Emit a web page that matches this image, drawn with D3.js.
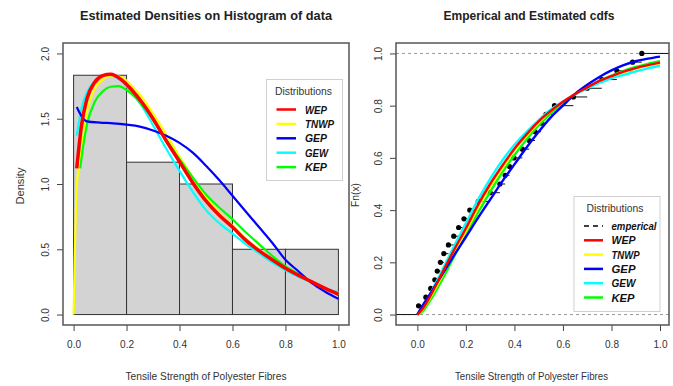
<!DOCTYPE html>
<html>
<head>
<meta charset="utf-8">
<script src="https://cdn.jsdelivr.net/npm/d3@7"></script>
<style>
  html, body { margin: 0; padding: 0; background: #fff; }
  svg { display: block; font-family: "Liberation Sans", Arial, sans-serif; }
</style>
</head>
<body>
<svg id="chart" width="673" height="386"></svg>
<script>
(function () {
    'use strict';

    // histogram of the data (bin edges and densities)
    const binEdges = [0, 0.2, 0.4, 0.6, 0.8, 1.0];
    const binDensity = [1.833, 1.167, 1.0, 0.5, 0.5];

    // sorted sample (n = 30)
    const sample = [0.005, 0.035, 0.055, 0.072, 0.082, 0.095, 0.109, 0.128, 0.150, 0.170,
        0.192, 0.216, 0.251, 0.300, 0.340, 0.362, 0.380, 0.398, 0.433, 0.461,
        0.485, 0.510, 0.530, 0.565, 0.643, 0.700, 0.760, 0.822, 0.887, 0.925];

    const series = ['WEP', 'TNWP', 'GEP', 'GEW', 'KEP'];
    const seriesColors = { WEP: '#ff0000', TNWP: '#ffff00', GEP: '#0000ff', GEW: '#00ffff', KEP: '#00ff00' };

    // estimated densities [x, f(x)]
    const wepDensity = [[0.012, 1.12], [0.03, 1.45], [0.05, 1.65], [0.08, 1.78], [0.11, 1.83], [0.14, 1.84],
        [0.18, 1.80], [0.22, 1.72], [0.26, 1.62], [0.30, 1.50], [0.35, 1.33], [0.40, 1.17], [0.45, 1.01],
        [0.50, 0.87], [0.55, 0.76], [0.60, 0.67], [0.65, 0.57], [0.70, 0.49], [0.75, 0.42], [0.80, 0.355],
        [0.85, 0.30], [0.90, 0.25], [0.95, 0.20], [1.0, 0.155]];
    const tnwpDensity = [[0.0, 0.0], [0.004, 0.4], [0.008, 0.75], [0.012, 0.98], [0.02, 1.13], [0.03, 1.27],
        [0.05, 1.55], [0.08, 1.73], [0.11, 1.80], [0.14, 1.83], [0.18, 1.82], [0.22, 1.75], [0.26, 1.66],
        [0.30, 1.54], [0.35, 1.38], [0.40, 1.21], [0.45, 1.05], [0.50, 0.90], [0.55, 0.78], [0.60, 0.68],
        [0.65, 0.58], [0.70, 0.50], [0.75, 0.42], [0.80, 0.355], [0.85, 0.30], [0.90, 0.25], [0.95, 0.20], [1.0, 0.16]];
    const gepDensity = [[0.012, 1.59], [0.03, 1.52], [0.05, 1.48], [0.10, 1.47], [0.15, 1.465], [0.20, 1.455],
        [0.25, 1.44], [0.30, 1.41], [0.35, 1.37], [0.40, 1.315], [0.45, 1.24], [0.50, 1.14], [0.55, 1.03],
        [0.60, 0.91], [0.65, 0.79], [0.70, 0.67], [0.75, 0.55], [0.80, 0.42], [0.85, 0.33], [0.90, 0.24],
        [0.95, 0.175], [1.0, 0.12]];
    const gewDensity = [[0.012, 1.37], [0.03, 1.58], [0.05, 1.70], [0.08, 1.79], [0.11, 1.83], [0.14, 1.83],
        [0.18, 1.79], [0.22, 1.70], [0.26, 1.59], [0.30, 1.45], [0.35, 1.27], [0.40, 1.10], [0.45, 0.94],
        [0.50, 0.80], [0.55, 0.70], [0.60, 0.62], [0.65, 0.54], [0.70, 0.47], [0.75, 0.40], [0.80, 0.34],
        [0.85, 0.29], [0.90, 0.245], [0.95, 0.20], [1.0, 0.17]];
    const kepDensity = [[0.025, 1.12], [0.03, 1.20], [0.05, 1.45], [0.08, 1.63], [0.11, 1.71], [0.14, 1.745],
        [0.17, 1.75], [0.20, 1.72], [0.24, 1.65], [0.28, 1.55], [0.32, 1.43], [0.36, 1.31], [0.40, 1.19],
        [0.45, 1.05], [0.50, 0.92], [0.55, 0.82], [0.60, 0.73], [0.65, 0.63], [0.70, 0.54], [0.75, 0.45],
        [0.80, 0.37], [0.85, 0.31], [0.90, 0.25], [0.95, 0.20], [1.0, 0.155]];

    // estimated cdfs on a common grid
    const cdfX = [0, 0.02, 0.05, 0.10, 0.15, 0.20, 0.25, 0.30, 0.35, 0.40, 0.45, 0.50,
        0.55, 0.60, 0.65, 0.70, 0.75, 0.80, 0.85, 0.90, 0.95, 1.0];
    const wepCdf = [0, 0.02, 0.065, 0.155, 0.245, 0.33, 0.42, 0.50, 0.57, 0.635, 0.69, 0.74,
        0.78, 0.815, 0.845, 0.87, 0.895, 0.913, 0.93, 0.944, 0.955, 0.965];
    const tnwpCdf = [0, 0.018, 0.06, 0.145, 0.235, 0.32, 0.41, 0.49, 0.56, 0.63, 0.685, 0.735,
        0.78, 0.815, 0.845, 0.87, 0.893, 0.912, 0.928, 0.942, 0.953, 0.963];
    const gepCdf = [0, 0.032, 0.075, 0.15, 0.225, 0.297, 0.37, 0.44, 0.51, 0.575, 0.64, 0.70,
        0.755, 0.80, 0.845, 0.88, 0.91, 0.935, 0.955, 0.97, 0.98, 0.988];
    const gewCdf = [0, 0.028, 0.075, 0.165, 0.26, 0.35, 0.44, 0.52, 0.59, 0.65, 0.70, 0.745,
        0.785, 0.815, 0.843, 0.866, 0.887, 0.905, 0.918, 0.931, 0.943, 0.954];
    const kepCdf = [0, 0.01, 0.05, 0.13, 0.22, 0.305, 0.39, 0.47, 0.545, 0.61, 0.67, 0.725,
        0.77, 0.81, 0.843, 0.87, 0.895, 0.915, 0.933, 0.948, 0.96, 0.97];

    const densities = { WEP: wepDensity, TNWP: tnwpDensity, GEP: gepDensity, GEW: gewDensity, KEP: kepDensity };
    const cdfs = { WEP: wepCdf, TNWP: tnwpCdf, GEP: gepCdf, GEW: gewCdf, KEP: kepCdf };

    const xTicks = [0, 0.2, 0.4, 0.6, 0.8, 1.0];
    const densTicks = [0, 0.5, 1.0, 1.5, 2.0];
    const cdfTicks = [0, 0.2, 0.4, 0.6, 0.8, 1.0];

    const svg = d3.select('#chart');
    const fmt = d3.format('.1f');
    const axisColor = '#444';

    function drawAxes(g, x, y, yTicks) {
        const box = { x0: x.range()[0], x1: x.range()[1], y0: y.range()[1], y1: y.range()[0] };

        const ax = g.append('g')
            .attr('transform', `translate(0,${box.y1})`)
            .call(d3.axisBottom(x).tickValues(xTicks).tickFormat(fmt).tickSize(6).tickPadding(10));
        const ay = g.append('g')
            .attr('transform', `translate(${box.x0},0)`)
            .call(d3.axisLeft(y).tickValues(yTicks).tickFormat(fmt).tickSize(6));

        [ax, ay].forEach((a) => {
            a.select('.domain').remove();
            a.selectAll('line').attr('stroke', axisColor);
            a.selectAll('text')
                .attr('fill', '#333')
                .attr('font-size', 10.5)
                .attr('textLength', 14)
                .attr('lengthAdjust', 'spacingAndGlyphs');
        });
        ay.selectAll('text')
            .attr('x', null).attr('dy', null)
            .attr('text-anchor', 'middle')
            .attr('transform', 'translate(-14,0) rotate(-90)');

        g.append('rect')
            .attr('x', box.x0).attr('y', box.y0)
            .attr('width', box.x1 - box.x0).attr('height', box.y1 - box.y0)
            .attr('fill', 'none').attr('stroke', '#555').attr('stroke-width', 1.5);
    }

    function drawLegend(g, x0, y0, w, h, titleX, entries) {
        g.append('rect')
            .attr('x', x0).attr('y', y0).attr('width', w).attr('height', h)
            .attr('fill', '#fff').attr('stroke', '#d0d0d0').attr('stroke-width', 1);
        g.append('text')
            .attr('x', titleX).attr('y', y0 + 15)
            .attr('text-anchor', 'middle')
            .attr('font-size', 11.5).attr('fill', '#333')
            .attr('textLength', 57).attr('lengthAdjust', 'spacingAndGlyphs')
            .text('Distributions');
        entries.forEach((e) => {
            g.append('line')
                .attr('x1', e.lx0).attr('x2', e.lx1).attr('y1', e.y).attr('y2', e.y)
                .attr('stroke', e.color).attr('stroke-width', e.dash ? 1.6 : 2.5)
                .attr('stroke-dasharray', e.dash ? '5,4' : null);
            g.append('text')
                .attr('x', e.tx).attr('y', e.y + 4)
                .attr('font-size', 11.5).attr('font-weight', 'bold').attr('font-style', 'italic')
                .attr('fill', '#111')
                .attr('textLength', e.w).attr('lengthAdjust', 'spacingAndGlyphs')
                .text(e.label);
        });
    }

    // ---------- left panel: densities over histogram ----------
    const xL = d3.scaleLinear().domain([-0.04, 1.04]).range([63, 349]);
    const yL = d3.scaleLinear().domain([-0.08, 2.08]).range([325, 43]);
    const left = svg.append('g');

    left.selectAll('rect.bar')
        .data(binDensity)
        .join('rect')
        .attr('class', 'bar')
        .attr('x', (d, i) => xL(binEdges[i]))
        .attr('y', (d) => yL(d))
        .attr('width', (d, i) => xL(binEdges[i + 1]) - xL(binEdges[i]))
        .attr('height', (d) => yL(0) - yL(d))
        .attr('fill', '#d3d3d3')
        .attr('stroke', '#333')
        .attr('stroke-width', 1);

    const densLine = d3.line().x((d) => xL(d[0])).y((d) => yL(d[1])).curve(d3.curveMonotoneX);
    ['GEW', 'TNWP', 'KEP', 'GEP', 'WEP'].forEach((s) => {
        left.append('path')
            .attr('d', densLine(densities[s]))
            .attr('fill', 'none')
            .attr('stroke', seriesColors[s])
            .attr('stroke-width', s === 'WEP' ? 3.5 : 2.2)
            .attr('stroke-linejoin', 'round');
    });

    drawAxes(left, xL, yL, densTicks);

    const leftWidths = [22, 29, 22, 23, 22];
    drawLegend(left, 266.5, 79.5, 76, 101, 303.5, series.map((s, i) => ({
        label: s, color: seriesColors[s], y: 109.5 + i * 14.4, lx0: 276.5, lx1: 296, tx: 305, w: leftWidths[i]
    })));

    left.append('text')
        .attr('x', 206).attr('y', 20)
        .attr('text-anchor', 'middle')
        .attr('font-size', 13).attr('font-weight', 'bold').attr('fill', '#222')
        .attr('textLength', 252).attr('lengthAdjust', 'spacingAndGlyphs')
        .text('Estimated  Densities on Histogram of data');
    left.append('text')
        .attr('x', 206).attr('y', 380)
        .attr('text-anchor', 'middle')
        .attr('font-size', 11.5).attr('fill', '#333')
        .attr('textLength', 161).attr('lengthAdjust', 'spacingAndGlyphs')
        .text('Tensile Strength of Polyester Fibres');
    left.append('text')
        .attr('transform', 'translate(24,186) rotate(-90)')
        .attr('text-anchor', 'middle')
        .attr('font-size', 11.5).attr('fill', '#333')
        .attr('textLength', 37).attr('lengthAdjust', 'spacingAndGlyphs')
        .text('Density');

    // ---------- right panel: empirical and estimated cdfs ----------
    const xR = d3.scaleLinear().domain([-0.088, 1.037]).range([396, 669]);
    const yR = d3.scaleLinear().domain([-0.04, 1.04]).range([325, 43]);
    const right = svg.append('g');

    [0, 1].forEach((v) => {
        right.append('line')
            .attr('x1', xR.range()[0]).attr('x2', xR.range()[1])
            .attr('y1', yR(v)).attr('y2', yR(v))
            .attr('stroke', '#999').attr('stroke-width', 1)
            .attr('stroke-dasharray', '3,3');
    });

    const n = sample.length;
    const steps = d3.range(n + 1).map((i) => ({
        x0: i === 0 ? xR.domain()[0] : sample[i - 1],
        x1: i === n ? xR.domain()[1] : sample[i],
        y: i / n
    }));
    right.selectAll('line.step')
        .data(steps)
        .join('line')
        .attr('class', 'step')
        .attr('x1', (d) => xR(d.x0)).attr('x2', (d) => xR(d.x1))
        .attr('y1', (d) => yR(d.y)).attr('y2', (d) => yR(d.y))
        .attr('stroke', '#111').attr('stroke-width', 1);
    right.selectAll('circle.pt')
        .data(sample)
        .join('circle')
        .attr('class', 'pt')
        .attr('cx', (d) => xR(d))
        .attr('cy', (d, i) => yR((i + 1) / n))
        .attr('r', 2.6)
        .attr('fill', '#000');

    const cdfLine = d3.line().x((d) => xR(d[0])).y((d) => yR(d[1])).curve(d3.curveMonotoneX);
    ['KEP', 'TNWP', 'GEW', 'GEP', 'WEP'].forEach((s) => {
        right.append('path')
            .attr('d', cdfLine(cdfX.map((x, i) => [x, cdfs[s][i]])))
            .attr('fill', 'none')
            .attr('stroke', seriesColors[s])
            .attr('stroke-width', 2.4)
            .attr('stroke-linejoin', 'round');
    });

    drawAxes(right, xR, yR, cdfTicks);

    const rightWidths = [45, 24, 28, 24, 24, 23];
    const rEntries = [{ label: 'emperical', color: '#000', dash: true }]
        .concat(series.map((s) => ({ label: s, color: seriesColors[s] })))
        .map((e, i) => Object.assign(e, { y: 226 + i * 14.3, lx0: 584, lx1: 603, tx: 611.5, w: rightWidths[i] }));
    drawLegend(right, 574, 196.5, 86, 115, 615, rEntries);

    right.append('text')
        .attr('x', 529).attr('y', 20)
        .attr('text-anchor', 'middle')
        .attr('font-size', 13).attr('font-weight', 'bold').attr('fill', '#222')
        .attr('textLength', 171).attr('lengthAdjust', 'spacingAndGlyphs')
        .text('Emperical and Estimated cdfs');
    right.append('text')
        .attr('x', 531.5).attr('y', 380)
        .attr('text-anchor', 'middle')
        .attr('font-size', 11.5).attr('fill', '#333')
        .attr('textLength', 153).attr('lengthAdjust', 'spacingAndGlyphs')
        .text('Tensile Strength of Polyester Fibres');
    right.append('text')
        .attr('transform', 'translate(359,195) rotate(-90)')
        .attr('text-anchor', 'middle')
        .attr('font-size', 11.5).attr('fill', '#333')
        .attr('textLength', 24).attr('lengthAdjust', 'spacingAndGlyphs')
        .text('Fn(x)');
})();
</script>
</body>
</html>
